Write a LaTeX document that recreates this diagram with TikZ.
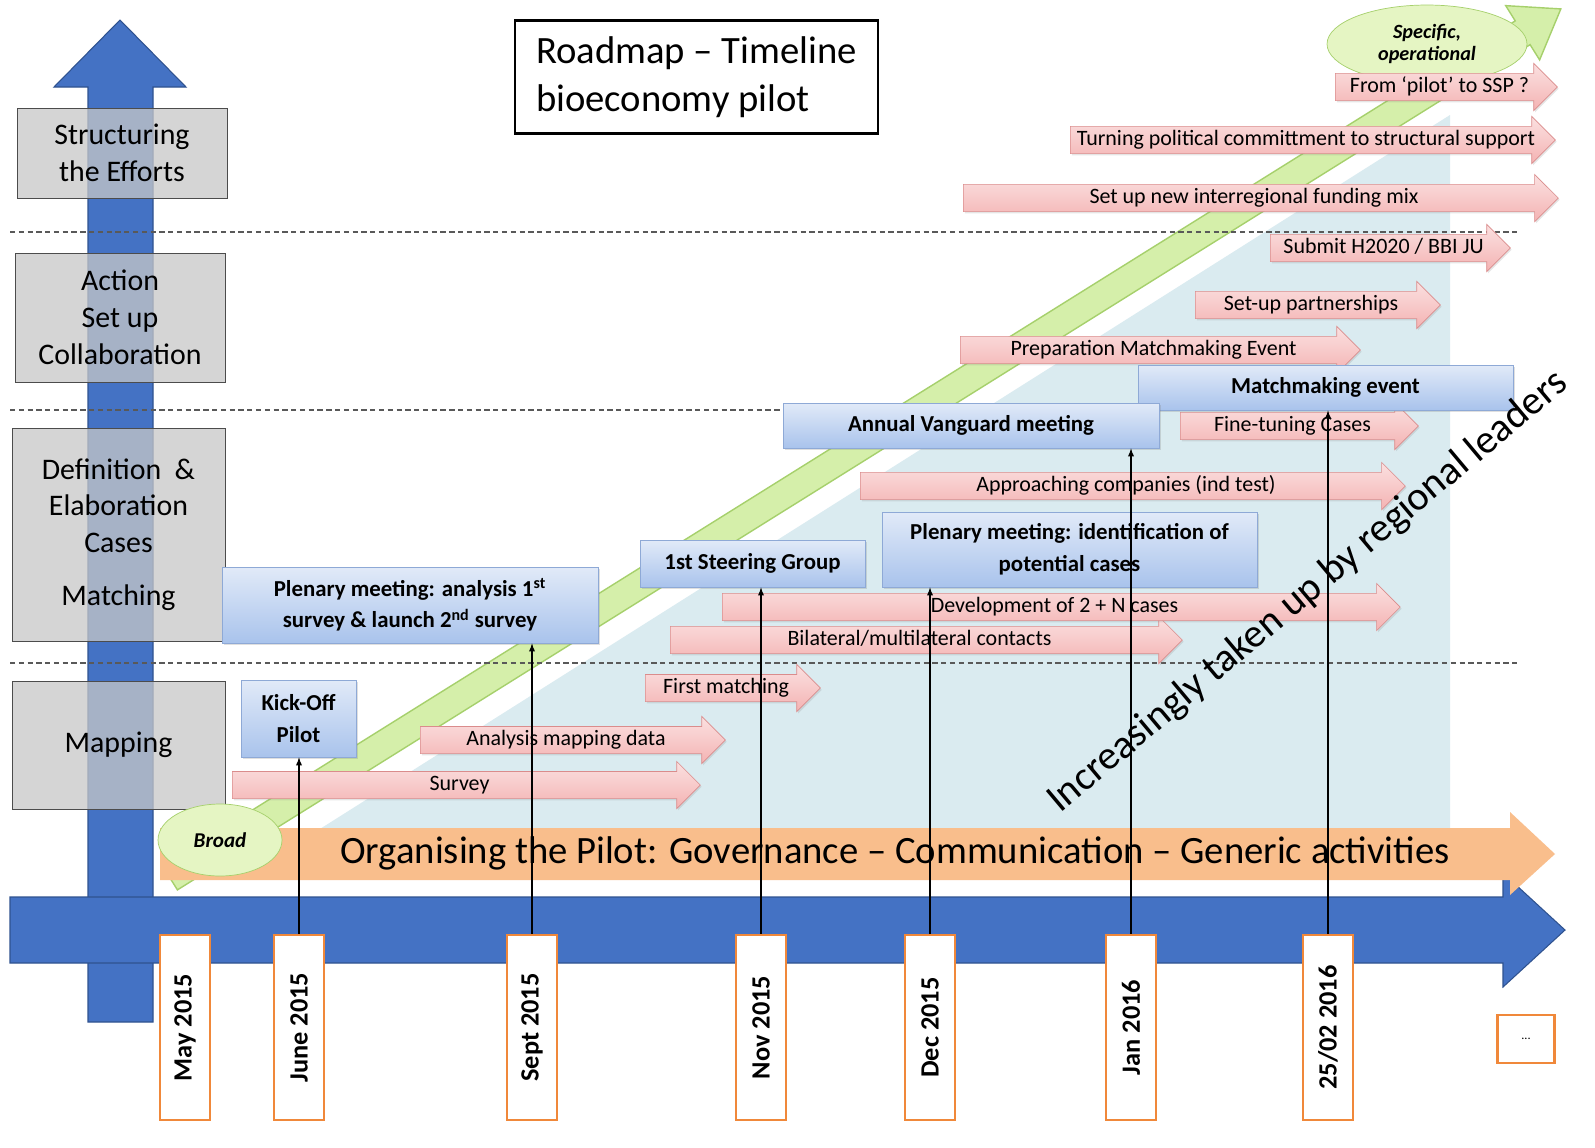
\documentclass[tikz,border=0pt]{standalone}
\usepackage{fontspec}
\setmainfont{Carlito}
\usetikzlibrary{shapes.arrows,shapes.geometric,shadows}

\definecolor{timeblue}{HTML}{4472C4}
\definecolor{timeline}{HTML}{2F528F}
\definecolor{phasegray}{HTML}{C8C8C8}
\definecolor{eventtop}{HTML}{E1EAF8}
\definecolor{eventbot}{HTML}{A9C3EC}
\definecolor{eventline}{HTML}{8EA9D6}
\definecolor{taskfill}{HTML}{F4B3B3}
\definecolor{taskline}{HTML}{DA8C8C}
\definecolor{orgorange}{HTML}{F9BE8C}
\definecolor{dateline}{HTML}{F0883A}
\definecolor{uptakeblue}{HTML}{DAEBF0}
\definecolor{bandgreen}{HTML}{D5EFAA}
\definecolor{bandline}{HTML}{A6D06C}
\definecolor{ovalgreen}{HTML}{E5F5C3}

\tikzset{
  phase/.style={draw=gray!60!black, fill=phasegray, fill opacity=0.75, text opacity=1,
    align=center, inner sep=0pt, font=\fontsize{17}{21}\selectfont},
  event/.style={draw=eventline, top color=eventtop, bottom color=eventbot, align=center,
    inner sep=0pt, drop shadow={opacity=0.25, shadow xshift=1pt, shadow yshift=-1.2pt},
    font=\fontsize{13}{18}\selectfont\bfseries},
  task/.style={shape=single arrow, anchor=tail, draw=taskline, top color=taskfill!40!white,
    bottom color=taskfill, single arrow head extend=0.2cm, single arrow tip angle=90,
    drop shadow={opacity=0.2, shadow xshift=0.8pt, shadow yshift=-1pt},
    inner ysep=2pt, inner xsep=2pt, text height=8.5pt, text depth=2.6pt,
    font=\fontsize{12.5}{14}\selectfont},
  datebox/.style={draw=dateline, line width=1.2pt, fill=white, rotate=90, inner sep=0pt,
    minimum width=3.7cm, minimum height=1cm, font=\fontsize{15}{18}\selectfont\bfseries},
  oval/.style={ellipse, draw=bandline, fill=ovalgreen, align=center, inner sep=0pt,
    font=\fontsize{12}{14}\selectfont\bfseries\itshape},
  sepline/.style={gray!70!black, dash pattern=on 3pt off 2pt, line width=0.8pt},
  bigarrow/.style={fill=timeblue, draw=timeline, line width=0.6pt},
  band/.style={fill=bandgreen, draw=bandline, line width=0.8pt},
  link/.style={-latex, line width=0.6pt, black},
}

\begin{document}
\begin{tikzpicture}[x=0.02cm, y=-0.02cm]
  \useasboundingbox (0,0) rectangle (1595,1147);
  \fill[white] (0,0) rectangle (1595,1147);

  % background: uptake triangle and the broad-to-specific band
  \fill[uptakeblue] (255,870) -- (1450,870) -- (1450,115) -- cycle;
  \begin{scope}[shift={(170,878)}, rotate=32]
    \draw[band] (0,-14) -- (1595,-14) -- (1595,-32) -- (1640,0) -- (1595,32) -- (1595,14) -- (0,14) -- cycle;
  \end{scope}

  % time and maturity axes
  \draw[bigarrow] (88,1022) -- (88,87) -- (54,87) -- (120,20) -- (186,87) -- (153,87) -- (153,1022) -- cycle;
  \draw[sepline] (10,232) -- (1520,232);
  \draw[sepline] (10,410) -- (1520,410);
  \draw[sepline] (10,663) -- (1520,663);

  % phases
  \node[phase, minimum width=4.2cm, minimum height=1.8cm] (struct) at (122,153) {Structuring\\the Efforts};
  \node[phase, minimum width=4.2cm, minimum height=2.58cm] (action) at (120,317.5) {Action\\Set up\\Collaboration};
  \node[phase, minimum width=4.26cm, minimum height=4.26cm] (defin) at (118.5,534.5) {Definition~~\&\\Elaboration\\Cases\\[9pt]Matching};
  \node[phase, minimum width=4.26cm, minimum height=2.56cm] (mapping) at (118.5,745) {Mapping};

  \draw[bigarrow] (10,897) -- (1503,897) -- (1503,873) -- (1565,930) -- (1503,987) -- (1503,963) -- (10,963) -- cycle;
  \fill[orgorange] (160,828) -- (1510,828) -- (1510,812) -- (1555,854) -- (1510,895) -- (1510,880) -- (160,880) -- cycle;
  \node[font=\fontsize{22}{26}\selectfont] (organise) at (895,853) {Organising the Pilot: Governance -- Communication -- Generic activities};
  \node[oval, minimum width=2.48cm, minimum height=1.44cm] (broad) at (220,840) {Broad};

  % activities
  \node[task, minimum height=9.36cm] (survey) at (232,785) {Survey};
  \node[task, minimum height=6.1cm] (anmap) at (420,740) {Analysis mapping data};
  \node[task, minimum height=3.5cm] (firstm) at (645,688) {First matching};
  \node[task, minimum height=10.24cm] (bilat) at (670,640) {Bilateral/multilateral contacts};
  \node[task, minimum height=13.56cm] (devel) at (722,607) {Development of 2 + N cases};
  \node[task, minimum height=10.9cm] (approach) at (860,486) {Approaching companies (ind test)};
  \node[task, minimum height=4.76cm] (finetune) at (1180,426) {Fine-tuning Cases};
  \node[task, minimum height=8cm] (prepmm) at (960,350) {Preparation Matchmaking Event};
  \node[task, minimum height=4.9cm] (partner) at (1195,305) {Set-up partnerships};
  \node[task, minimum height=4.8cm] (submit) at (1270,248) {Submit H2020 / BBI JU};
  \node[task, minimum height=11.9cm] (funding) at (963,198) {Set up new interregional funding mix};
  \node[task, minimum height=9.7cm] (turning) at (1070,140) {Turning political committment to structural support};
  \node[oval, minimum width=4cm, minimum height=1.56cm, font=\fontsize{11.5}{13}\selectfont\bfseries\itshape] (specific) at (1427,44) {Specific,\\operational};
  \node[task, minimum height=4.44cm] (pilotssp) at (1335,87) {From `pilot' to SSP ?};

  % meetings
  \node[event, minimum width=2.3cm, minimum height=1.54cm] (kickoff) at (298.5,718.5) {Kick-Off\\Pilot};
  \node[event, minimum width=7.52cm, minimum height=1.52cm] (plen1) at (410,605) {Plenary meeting: analysis 1\textsuperscript{st}\\survey \& launch 2\textsuperscript{nd} survey};
  \node[event, minimum width=4.5cm, minimum height=0.94cm] (steer) at (752.5,563.5) {1st Steering Group};
  \node[event, minimum width=7.5cm, minimum height=1.5cm] (plen2) at (1069.5,549.5) {Plenary meeting: identification of\\potential cases};
  \node[event, minimum width=7.5cm, minimum height=0.9cm] (matchmk) at (1325.5,387.5) {Matchmaking event};
  \node[event, minimum width=7.52cm, minimum height=0.9cm] (vanguard) at (971,425.5) {Annual Vanguard meeting};

  % dates
  \node[datebox] (may) at (185,1027.5) {May 2015};
  \node[datebox] (june) at (299,1027.5) {June 2015};
  \node[datebox] (sept) at (532,1027.5) {Sept 2015};
  \node[datebox] (nov) at (761,1027.5) {Nov 2015};
  \node[datebox] (dec) at (930,1027.5) {Dec 2015};
  \node[datebox] (jan) at (1131,1027.5) {Jan 2016};
  \node[datebox] (feb) at (1328,1027.5) {25/02 2016};
  \node[draw=dateline, line width=1.2pt, fill=white, minimum width=1.14cm, minimum height=0.96cm,
    font=\fontsize{7}{8}\selectfont] (more) at (1526,1039) {...};

  \draw[link] (june.east) -- (june.east |- kickoff.south);
  \draw[link] (sept.east) -- (sept.east |- plen1.south);
  \draw[link] (nov.east) -- (nov.east |- steer.south);
  \draw[link] (dec.east) -- (dec.east |- plen2.south);
  \draw[link] (jan.east) -- (jan.east |- vanguard.south);
  \draw[link] (feb.east) -- (feb.east |- matchmk.south);

  \node[rotate=40, font=\fontsize{23}{27}\selectfont] (uptake) at (1308,592) {Increasingly taken up by regional leaders};

  \node[draw=black, line width=1.4pt, fill=white, minimum width=7.26cm, minimum height=2.26cm,
    align=left, font=\fontsize{22}{27}\selectfont] (title) at (696.5,77) {Roadmap -- Timeline\\bioeconomy pilot};
\end{tikzpicture}
\end{document}
